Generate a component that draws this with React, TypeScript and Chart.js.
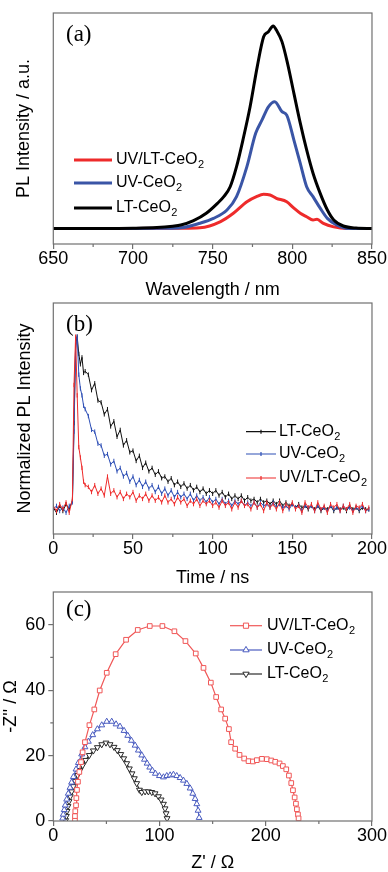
import React, { useEffect, useRef } from "react";
import { Chart, registerables } from "chart.js";

Chart.register(...registerables);

const SANS = "'Liberation Sans', Arial, Helvetica, sans-serif";
const SERIF = "'Liberation Serif', 'Times New Roman', serif";
const AXIS_COLOR = "#707070";
const W = 388;

// ---------- Panel (a): PL spectra ----------
const WL_TICKS = [650, 700, 750, 800, 850];
const WL_MINOR_TICKS = [675, 725, 775, 825];
const LT_WL = [650, 680, 700, 715, 725, 730, 738, 746, 753, 757, 761, 765, 769, 773.5, 778, 782, 785, 788, 790, 793.5, 797, 801, 805, 809, 813, 817.5, 822, 826, 832, 840, 850];
const LT_PL = [0, 0, 0.1, 0.4, 1.0, 1.5, 3.4, 6.6, 10.9, 13.8, 18.1, 26.8, 38.3, 52.7, 70.1, 83.0, 85.2, 87.7, 85.9, 80.9, 71.5, 58.5, 45.6, 34.0, 23.9, 15.2, 8.0, 3.7, 1.1, 0.2, 0];
const UV_WL = [650, 700, 720, 730, 742, 750.5, 759, 765, 771.5, 777, 781, 785, 789, 793.5, 796.5, 801, 805, 809, 813, 817.5, 822, 828, 836, 850];
const UV_PL = [0, 0, 0.1, 0.3, 2.3, 4.4, 8.0, 13.8, 26.8, 41.2, 47.0, 52.7, 54.9, 50.6, 49.1, 38.3, 28.2, 18.1, 13.8, 8.8, 4.4, 1.5, 0, 0];
const UVLT_WL = [650, 700, 730, 742, 755, 763, 771.5, 777.5, 782, 786, 790, 796.5, 801, 805, 809, 813, 815.5, 819.5, 826, 834, 850];
const UVLT_PL = [0, 0, 0.1, 0.3, 3.0, 6.6, 11.6, 13.8, 14.8, 14.5, 13.1, 11.6, 8.8, 6.6, 5.1, 3.7, 4.0, 2.2, 0.7, 0, 0];

// ---------- Panel (b): PL decay ----------
const TIME_TICKS = [0, 50, 100, 150, 200];
const TIME_MINOR_TICKS = [25, 75, 125, 175];
const TIME = [
  0, 2, 4, 6, 8, 10, 12, 13, 14, 15, 16, 17, 18, 19, 20,
  22, 24, 26, 28, 30, 32, 34, 36, 38, 40, 42, 44, 46, 48, 50, 52, 54, 56, 58, 60,
  62, 64, 66, 68, 70, 72, 74, 76, 78, 80, 82, 84, 86, 88, 90, 92, 94, 96, 98, 100,
  102, 104, 106, 108, 110, 112, 114, 116, 118, 120, 122, 124, 126, 128, 130, 132, 134, 136, 138, 140,
  142, 144, 146, 148, 150, 152, 154, 156, 158, 160, 162, 164, 166, 168, 170, 172, 174, 176, 178, 180, 182, 184, 186, 188, 190, 192, 194, 196, 198,
];
const LT_DECAY = [
  0.01, -0.02, 0.02, -0.01, 0.03, 0.0, 0.05,
  0.5, 0.95, 1.0, 0.9, 0.84, 0.88, 0.79, 0.8,
  0.78, 0.69, 0.73, 0.63, 0.62, 0.55, 0.58, 0.48, 0.51, 0.42, 0.46, 0.37, 0.4, 0.33, 0.34, 0.28, 0.31, 0.24, 0.27, 0.22,
  0.24, 0.2, 0.22, 0.18, 0.19, 0.16, 0.18, 0.14, 0.16, 0.13, 0.15, 0.12, 0.14, 0.11, 0.13, 0.1, 0.12, 0.09, 0.11, 0.09,
  0.11, 0.08, 0.1, 0.07, 0.09, 0.06, 0.08, 0.06, 0.08, 0.05, 0.07, 0.05, 0.06, 0.04, 0.06, 0.04, 0.05, 0.03, 0.05, 0.03,
  0.05, 0.02, 0.04, 0.02, 0.03, 0.01, 0.03, 0.01, 0.02, 0.0, 0.02, 0.0, 0.02, -0.01, 0.01, 0.0, 0.02, -0.01, 0.01, 0.0, 0.01, -0.01, 0.02, 0.0, 0.01, -0.01, 0.01, 0.0, 0.0,
];
const UV_DECAY = [
  0.0, 0.02, -0.01, 0.01, -0.02, 0.02, 0.04,
  0.45, 0.92, 1.0, 0.78, 0.7, 0.66, 0.6, 0.58,
  0.54, 0.46, 0.45, 0.38, 0.37, 0.31, 0.32, 0.26, 0.28, 0.22, 0.24, 0.19, 0.21, 0.16, 0.19, 0.14, 0.17, 0.13, 0.16, 0.12,
  0.14, 0.1, 0.13, 0.09, 0.12, 0.08, 0.11, 0.07, 0.1, 0.07, 0.09, 0.06, 0.09, 0.05, 0.08, 0.05, 0.07, 0.04, 0.07, 0.04,
  0.06, 0.03, 0.06, 0.03, 0.05, 0.02, 0.05, 0.03, 0.05, 0.02, 0.04, 0.02, 0.04, 0.01, 0.04, 0.02, 0.03, 0.01, 0.04, 0.01,
  0.03, 0.01, 0.02, 0.0, 0.03, 0.01, 0.02, -0.01, 0.02, 0.01, 0.02, -0.01, 0.02, 0.0, 0.01, -0.01, 0.02, 0.0, 0.01, -0.01, 0.02, 0.0, 0.01, -0.01, 0.01, 0.0, 0.02, -0.01, 0.0,
];
const UVLT_DECAY = [
  0.02, -0.01, 0.03, 0.0, 0.04, -0.02, 0.06,
  0.72, 1.0, 0.66, 0.36, 0.3, 0.24, 0.16, 0.14,
  0.13, 0.1, 0.14, 0.09, 0.12, 0.08, 0.19, 0.09, 0.11, 0.07, 0.1, 0.06, 0.09, 0.07, 0.1, 0.05, 0.08, 0.06, 0.09, 0.05,
  0.08, 0.05, 0.07, 0.04, 0.08, 0.04, 0.06, 0.03, 0.07, 0.04, 0.06, 0.02, 0.05, 0.03, 0.06, 0.02, 0.05, 0.03, 0.05, 0.02,
  0.04, 0.01, 0.05, 0.02, 0.04, 0.0, 0.04, 0.01, 0.05, 0.02, 0.03, 0.0, 0.04, 0.01, 0.03, -0.01, 0.04, 0.01, 0.03, 0.0,
  0.04, -0.01, 0.03, 0.01, 0.04, 0.0, 0.02, -0.02, 0.04, 0.01, 0.03, -0.01, 0.04, 0.0, 0.02, -0.02, 0.03, 0.01, 0.03, -0.01, 0.02, 0.0, 0.03, -0.02, 0.02, 0.01, 0.03, -0.01, 0.01,
];

// ---------- Panel (c): Nyquist ----------
const ZRE_TICKS = [0, 100, 200, 300];
const ZRE_MINOR_TICKS = [50, 150, 250];
const ZIM_TICKS = [0, 20, 40, 60];
const ZIM_MINOR_TICKS = [10, 30, 50];
const UVLT_ZRE = [20.4, 20.4, 20.7, 21.4, 21.7, 22.3, 23.2, 24.5, 26.1, 27.6, 29.8, 34.0, 38.6, 43.7, 50.3, 58.7, 68.5, 79.5, 90.8, 102.7, 114.0, 124.4, 134.1, 141.4, 148.3, 153.3, 158.0, 161.8, 165.3, 167.4, 171.2, 175.3, 179.7, 183.8, 187.9, 191.6, 196.4, 201.0, 205.2, 208.9, 213.0, 216.1, 219.3, 221.8, 224.0, 225.6, 227.2, 228.4, 229.3, 230.3, 230.9];
const UVLT_ZIM = [0.2, 1.5, 3.0, 4.8, 7.0, 9.5, 12.0, 15.0, 18.0, 21.0, 24.1, 29.3, 34.1, 39.9, 45.3, 51.0, 55.4, 58.4, 59.6, 59.6, 58.0, 55.0, 51.2, 46.8, 42.3, 37.9, 34.1, 31.3, 28.1, 24.1, 22.1, 20.2, 19.1, 18.3, 18.2, 18.6, 19.0, 18.9, 18.5, 18.1, 17.6, 16.8, 15.8, 13.9, 11.6, 9.4, 7.2, 5.3, 3.6, 2.0, 0.8];
const UV_ZRE = [8.8, 9.4, 10.3, 11.2, 12.6, 14.1, 15.7, 17.2, 18.9, 21.4, 23.6, 26.7, 29.8, 33.0, 37.1, 41.5, 45.6, 50.3, 55.0, 59.1, 62.8, 66.6, 70.1, 73.5, 77.0, 80.1, 83.3, 85.8, 88.3, 90.8, 93.3, 96.1, 99.9, 103.7, 106.8, 110.0, 113.1, 116.2, 119.4, 122.5, 125.7, 128.8, 131.3, 133.5, 135.1, 136.3, 137.3];
const UV_ZIM = [0.8, 2.0, 3.4, 4.8, 6.6, 8.4, 10.2, 11.8, 13.5, 15.8, 17.8, 20.4, 22.6, 24.3, 26.3, 28.1, 29.3, 30.4, 30.4, 29.6, 28.9, 27.6, 26.1, 24.6, 23.1, 21.6, 20.1, 18.8, 17.6, 16.4, 15.4, 14.5, 13.8, 13.4, 13.8, 14.0, 14.2, 13.8, 13.2, 12.4, 11.4, 10.0, 8.4, 6.8, 5.2, 3.2, 1.0];
const LT_ZRE = [11.6, 12.3, 12.9, 13.8, 14.8, 16.0, 17.3, 18.9, 20.7, 22.9, 25.1, 27.6, 30.5, 33.9, 37.7, 41.5, 45.6, 49.6, 53.4, 57.2, 60.3, 63.5, 66.3, 69.1, 71.6, 74.1, 76.3, 78.5, 81.1, 83.3, 86.4, 89.5, 92.7, 95.8, 99.0, 101.5, 103.7, 105.2, 106.2, 107.1];
const LT_ZIM = [0.2, 1.5, 3.0, 4.5, 6.0, 7.5, 9.0, 10.6, 12.2, 14.0, 15.5, 17.0, 18.6, 20.1, 21.5, 22.5, 23.4, 23.9, 23.4, 22.6, 21.6, 20.4, 19.1, 17.6, 16.0, 14.5, 13.0, 11.5, 9.5, 8.8, 9.0, 9.0, 8.8, 8.4, 7.5, 6.5, 5.2, 3.8, 2.3, 0.8];

// ---------- colours ----------
const RED_A = "#ee2b2b";
const BLUE_A = "#3a55a6";
const BLACK = "#000000";
const RED_B = "#ee2b2b";
const BLUE_B = "#2f50b6";
const BLACK_B = "#111111";
const RED_C = "#f05858";
const BLUE_C = "#4a5cc0";
const BLACK_C = "#2a2a2a";

const pts = (xs: number[], ys: number[]) => xs.map((x, i) => ({ x, y: ys[i] }));

function drawName(ctx: CanvasRenderingContext2D, x: number, y: number, main: string, sub: string) {
  ctx.fillStyle = "#000";
  ctx.textAlign = "left";
  ctx.textBaseline = "middle";
  ctx.font = `16px ${SANS}`;
  ctx.fillText(main, x, y);
  const w = ctx.measureText(main).width;
  ctx.font = `11px ${SANS}`;
  ctx.fillText(sub, x + w + 0.5, y + 5);
}

function drawMarker(ctx: CanvasRenderingContext2D, kind: string, x: number, y: number, r: number, color: string) {
  ctx.beginPath();
  if (kind === "square") {
    const s = r * 0.72;
    ctx.rect(x - s, y - s, 2 * s, 2 * s);
  } else if (kind === "up") {
    ctx.moveTo(x, y - r);
    ctx.lineTo(x + r * 0.87, y + r * 0.5);
    ctx.lineTo(x - r * 0.87, y + r * 0.5);
    ctx.closePath();
  } else {
    ctx.moveTo(x, y + r);
    ctx.lineTo(x + r * 0.87, y - r * 0.5);
    ctx.lineTo(x - r * 0.87, y - r * 0.5);
    ctx.closePath();
  }
  ctx.fillStyle = "#fff";
  ctx.fill();
  ctx.strokeStyle = color;
  ctx.lineWidth = 1;
  ctx.stroke();
}

function decorPlugin(opts: {
  label: string;
  labelY: number;
  xMinor: number[];
  yMinor: number[];
  legend: (ctx: CanvasRenderingContext2D) => void;
}) {
  return {
    id: "decor",
    afterDraw(chart: any) {
      const { ctx, chartArea: a, scales } = chart;
      ctx.save();
      ctx.strokeStyle = AXIS_COLOR;
      ctx.lineWidth = 1.2;
      ctx.strokeRect(a.left, a.top, a.right - a.left, a.bottom - a.top);
      ctx.beginPath();
      opts.xMinor.forEach((v) => {
        const p = scales.x.getPixelForValue(v);
        ctx.moveTo(p, a.bottom);
        ctx.lineTo(p, a.bottom + 3);
      });
      opts.yMinor.forEach((v) => {
        const p = scales.y.getPixelForValue(v);
        ctx.moveTo(a.left, p);
        ctx.lineTo(a.left - 3, p);
      });
      ctx.stroke();
      ctx.fillStyle = "#000";
      ctx.font = `23px ${SERIF}`;
      ctx.textAlign = "left";
      ctx.textBaseline = "alphabetic";
      ctx.fillText(opts.label, 66, opts.labelY);
      opts.legend(ctx);
      ctx.restore();
    },
  };
}

function makeOptions(p: {
  height: number;
  top: number;
  bottom: number;
  xMin: number;
  xMax: number;
  xTicks: number[];
  xTitle: string;
  xTitlePad: number;
  yMin: number;
  yMax: number;
  yTicks: number[] | null;
  yTitle: string;
  yTitlePad: number;
}) {
  const tickFont = { family: SANS, size: 18, lineHeight: 1 };
  return {
    responsive: false,
    animation: false as const,
    devicePixelRatio: 1,
    layout: { padding: { top: p.top, right: W - 372, bottom: 0, left: 0 } },
    plugins: { legend: { display: false }, tooltip: { enabled: false } },
    events: [],
    scales: {
      x: {
        type: "linear" as const,
        min: p.xMin,
        max: p.xMax,
        afterBuildTicks: (s: any) => {
          s.ticks = p.xTicks.map((v) => ({ value: v }));
        },
        afterFit: (s: any) => {
          s.height = p.height - p.bottom;
        },
        grid: { display: true, drawOnChartArea: false, drawTicks: true, tickLength: 5, color: AXIS_COLOR, lineWidth: 1.2 },
        border: { display: false },
        ticks: { color: "#000", font: tickFont, padding: 1, maxRotation: 0, autoSkip: false },
        title: { display: true, text: p.xTitle, color: "#000", font: tickFont, padding: { top: 0, bottom: p.xTitlePad } },
      },
      y: {
        type: "linear" as const,
        min: p.yMin,
        max: p.yMax,
        afterBuildTicks: (s: any) => {
          if (p.yTicks) s.ticks = p.yTicks.map((v) => ({ value: v }));
        },
        afterFit: (s: any) => {
          s.width = 53.3;
        },
        grid: p.yTicks
          ? { display: true, drawOnChartArea: false, drawTicks: true, tickLength: 5, color: AXIS_COLOR, lineWidth: 1.2 }
          : { display: false },
        border: { display: false },
        ticks: p.yTicks ? { color: "#000", font: tickFont, padding: 3, autoSkip: false } : { display: false },
        title: { display: true, text: p.yTitle, color: "#000", font: tickFont, padding: { top: p.yTitlePad, bottom: 0 } },
      },
    },
  };
}

function makeA(): any {
  return {
    type: "line",
    data: {
      datasets: [
        { data: pts(LT_WL, LT_PL), borderColor: BLACK, borderWidth: 3, pointRadius: 0, cubicInterpolationMode: "monotone" },
        { data: pts(UV_WL, UV_PL), borderColor: BLUE_A, borderWidth: 3, pointRadius: 0, cubicInterpolationMode: "monotone" },
        { data: pts(UVLT_WL, UVLT_PL), borderColor: RED_A, borderWidth: 3, pointRadius: 0, cubicInterpolationMode: "monotone" },
      ],
    },
    options: makeOptions({
      height: 300, top: 13, bottom: 244,
      xMin: 650, xMax: 850, xTicks: WL_TICKS, xTitle: "Wavelength / nm", xTitlePad: 1.3,
      yMin: -6.7, yMax: 93.3, yTicks: null, yTitle: "PL Intensity / a.u.", yTitlePad: 15.5,
    }),
    plugins: [
      decorPlugin({
        label: "(a)", labelY: 41, xMinor: WL_MINOR_TICKS, yMinor: [],
        legend: (ctx) => {
          const items: [string, string, number][] = [["UV/LT-CeO", RED_A, 160], ["UV-CeO", BLUE_A, 183], ["LT-CeO", BLACK, 208]];
          items.forEach(([name, color, y]) => {
            ctx.strokeStyle = color;
            ctx.lineWidth = 3;
            ctx.beginPath();
            ctx.moveTo(74, y);
            ctx.lineTo(112, y);
            ctx.stroke();
            drawName(ctx, 116, y, name, "2");
          });
        },
      }),
    ],
  };
}

function decaySet(values: number[], color: string) {
  return {
    data: pts(TIME, values),
    borderColor: color,
    borderWidth: 1,
    pointStyle: "line",
    pointRotation: 90,
    pointRadius: 2.2,
    pointBorderWidth: 1,
    pointBorderColor: color,
    pointBackgroundColor: color,
  };
}

function makeB(): any {
  return {
    type: "line",
    data: {
      datasets: [decaySet(UVLT_DECAY, RED_B), decaySet(UV_DECAY, BLUE_B), decaySet(LT_DECAY, BLACK_B)],
    },
    options: makeOptions({
      height: 300, top: 13, bottom: 244,
      xMin: 0, xMax: 200, xTicks: TIME_TICKS, xTitle: "Time / ns", xTitlePad: 2.6,
      yMin: -0.143, yMax: 1.195, yTicks: null, yTitle: "Normalized PL Intensity", yTitlePad: 16,
    }),
    plugins: [
      decorPlugin({
        label: "(b)", labelY: 41, xMinor: TIME_MINOR_TICKS, yMinor: [],
        legend: (ctx) => {
          const items: [string, string, number][] = [["LT-CeO", BLACK_B, 141.7], ["UV-CeO", BLUE_B, 164], ["UV/LT-CeO", RED_B, 188]];
          items.forEach(([name, color, y]) => {
            ctx.strokeStyle = color;
            ctx.lineWidth = 1.2;
            ctx.beginPath();
            ctx.moveTo(246, y);
            ctx.lineTo(276, y);
            ctx.moveTo(261, y - 2);
            ctx.lineTo(261, y + 2);
            ctx.stroke();
            drawName(ctx, 279, y, name, "2");
          });
        },
      }),
    ],
  };
}

function makeC(): any {
  return {
    type: "line",
    data: {
      datasets: [
        { data: pts(UVLT_ZRE, UVLT_ZIM), borderColor: RED_C, borderWidth: 1.2, pointStyle: "rect", pointRadius: 3.3, pointBackgroundColor: "#fff", pointBorderColor: RED_C, pointBorderWidth: 1 },
        { data: pts(UV_ZRE, UV_ZIM), borderColor: BLUE_C, borderWidth: 1.2, pointStyle: "triangle", pointRadius: 3.4, pointBackgroundColor: "#fff", pointBorderColor: BLUE_C, pointBorderWidth: 1 },
        { data: pts(LT_ZRE, LT_ZIM), borderColor: BLACK_C, borderWidth: 1.2, pointStyle: "triangle", pointRotation: 180, pointRadius: 3.4, pointBackgroundColor: "#fff", pointBorderColor: BLACK_C, pointBorderWidth: 1 },
      ],
    },
    options: makeOptions({
      height: 292, top: 7, bottom: 241,
      xMin: 0, xMax: 300, xTicks: ZRE_TICKS, xTitle: "Z' / Ω", xTitlePad: 0,
      yMin: 0, yMax: 70, yTicks: ZIM_TICKS, yTitle: "-Z'' / Ω", yTitlePad: 2,
    }),
    plugins: [
      decorPlugin({
        label: "(c)", labelY: 36, xMinor: ZRE_MINOR_TICKS, yMinor: ZIM_MINOR_TICKS,
        legend: (ctx) => {
          const items: [string, string, number, string][] = [
            ["UV/LT-CeO", RED_C, 45.7, "square"],
            ["UV-CeO", BLUE_C, 70, "up"],
            ["LT-CeO", BLACK_C, 94, "down"],
          ];
          items.forEach(([name, color, y, kind]) => {
            ctx.strokeStyle = color;
            ctx.lineWidth = 1.2;
            ctx.beginPath();
            ctx.moveTo(230, y);
            ctx.lineTo(262, y);
            ctx.stroke();
            drawMarker(ctx, kind, 246, y, 3.6, color);
            drawName(ctx, 267, y, name, "2");
          });
        },
      }),
    ],
  };
}

function ChartCanvas({ top, height, make }: { top: number; height: number; make: () => any }) {
  const ref = useRef<HTMLCanvasElement | null>(null);
  useEffect(() => {
    if (!ref.current) return;
    const chart = new Chart(ref.current, make());
    return () => chart.destroy();
  }, [make]);
  return (
    <canvas
      ref={ref}
      width={W}
      height={height}
      style={{ position: "absolute", left: 0, top, width: W, height, display: "block" }}
    />
  );
}

export default function App() {
  return (
    <div style={{ position: "absolute", left: 0, top: 0, width: W, height: 872, background: "#fff", overflow: "hidden" }}>
      <ChartCanvas top={0} height={300} make={makeA} />
      <ChartCanvas top={290} height={300} make={makeB} />
      <ChartCanvas top={580} height={292} make={makeC} />
    </div>
  );
}
